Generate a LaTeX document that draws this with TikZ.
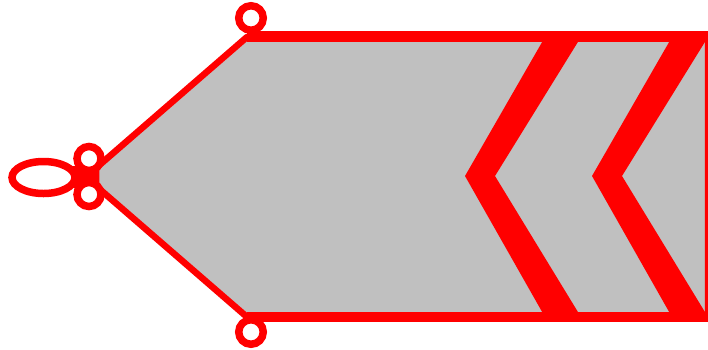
\documentclass[tikz,border=0pt]{standalone}
\definecolor{signred}{RGB}{255,0,0}
\definecolor{signgray}{RGB}{192,192,192}
\tikzset{
  body/.style={fill=signgray, draw=signred, line width=6.5pt, line join=round},
  edge/.style={draw=signred, line width=10.5pt},
  chevron/.style={fill=signred, draw=none},
  ring/.style={draw=signred, fill=white, line width=7.5pt},
}
\begin{document}
\begin{tikzpicture}[x=1pt,y=-1pt]
\useasboundingbox (0,0) rectangle (708,349);
% body
\path[body] (247,37) -- (708,37) -- (708,317) -- (247,317) -- (96,186) -- (96,168) -- cycle;
% chevrons
\path[chevron] (545,37) -- (581,37) -- (495,176) -- (581,317) -- (545,317) -- (465,176) -- cycle;
\path[chevron] (672,37) -- (708,37) -- (622,176) -- (708,317) -- (672,317) -- (592,176) -- cycle;
% top, bottom, right edges
\draw[edge] (247,36.5) coordinate (tl) -- (712,36.5) coordinate (tr);
\draw[edge] (247,317) coordinate (bl) -- (712,317) coordinate (br);
\draw[signred, line width=12pt] (tr) -- (br);
% tip patch
\path[fill=signred] (72,166) rectangle (99,188);
% ellipse and rings
\draw[ring] (43.5,177.5) ellipse [x radius=31.5, y radius=16];
\draw[ring] (89,158.5) circle [radius=12];
\draw[ring] (89,194.5) circle [radius=12];
\draw[ring] (251,18) circle [radius=12.25];
\draw[ring] (251,332) circle [radius=12.25];
\end{tikzpicture}
\end{document}
